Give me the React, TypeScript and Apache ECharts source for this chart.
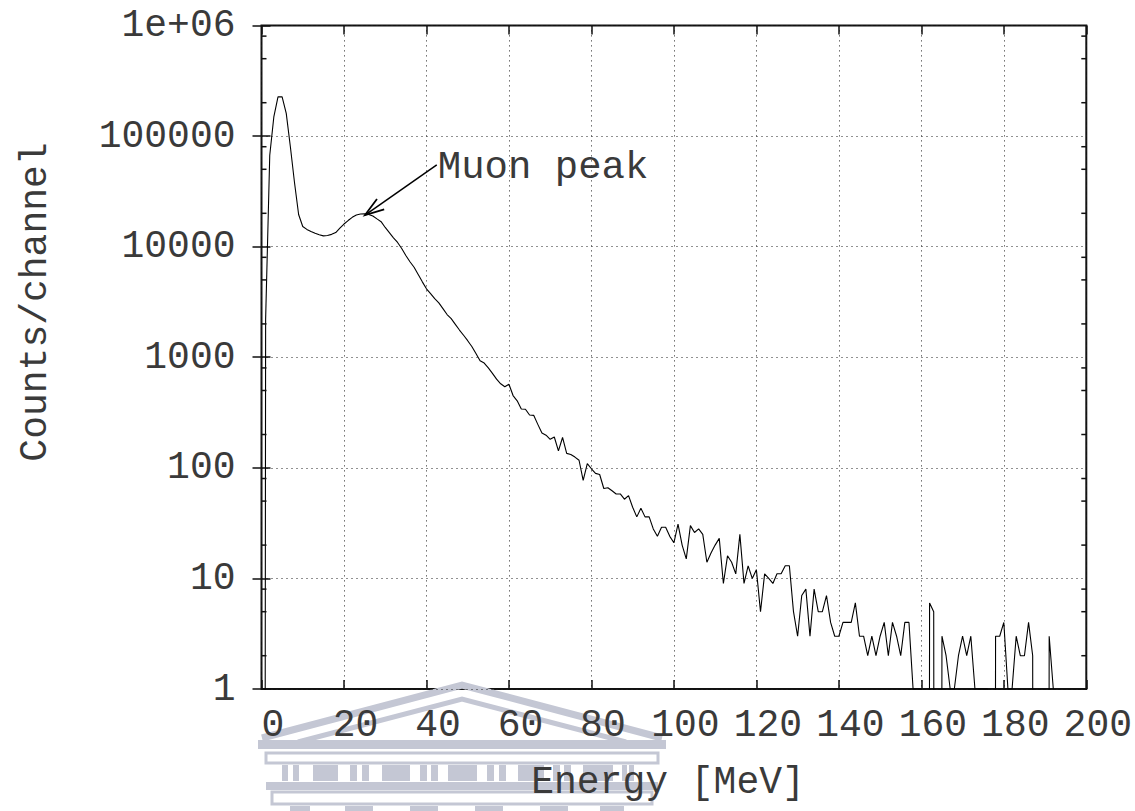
import React, { useEffect, useRef } from 'react';
import * as echarts from 'echarts';

// Counts per 1-MeV channel, channel index = energy in MeV (0 … 192)
const counts: number[] = [
  0, 2200, 67000, 150000, 226000, 226000, 160000, 80000, 38000, 19500,
  15200, 14300, 13700, 13200, 12800, 12500, 12600, 12900, 13400, 14700,
  16000, 17200, 18400, 19300, 19700, 19800, 19500, 18900, 17800, 16800,
  14900, 13400, 12000, 10900, 9600, 8300, 7300, 6500, 5600, 4800,
  4150, 3750, 3380, 3100, 2750, 2430, 2230, 1980, 1760, 1580,
  1410, 1250, 1080, 930, 885, 800, 715, 633, 575, 540,
  570, 450, 403, 340, 338, 300, 298, 247, 206, 197,
  181, 190, 142, 188, 135, 132, 125, 117, 77, 109,
  98, 89, 87, 65, 66, 62, 58, 58, 52, 56,
  44, 36, 43, 36, 36, 28, 24, 29, 29, 24,
  21, 31, 20, 15, 30, 26, 28, 25, 14, 17,
  20, 23, 9, 16, 14, 11, 25, 9, 13, 10,
  12, 5, 11, 10, 9, 11, 11, 13, 13, 5,
  3, 7, 8, 3, 8, 5, 5, 7, 4, 3,
  3, 4, 4, 4, 6, 3, 3, 2, 3, 2,
  3, 4, 2, 4, 3, 2, 4, 4, 1, 1,
  1, 0, 6, 5, 0, 3, 2, 1, 1, 2,
  3, 2, 3, 1, 1, 1, 1, 0, 3, 3,
  4, 1, 1, 3, 2, 2, 4, 2, 0, 0,
  0, 3, 1,
];
const channelWidthMeV = 1;
const energies: number[] = counts.map((_, i) => i * channelWidthMeV);

const xTicks: number[] = [0, 20, 40, 60, 80, 100, 120, 140, 160, 180, 200];
const yTickLabels: Record<string, string> = {
  '1': '1', '10': '10', '100': '100', '1000': '1000',
  '10000': '10000', '100000': '100000', '1000000': '1e+06',
};
const yMinorTicks: number[] = [
  2, 5, 8, 20, 50, 80, 200, 500, 800, 2000, 5000, 8000,
  20000, 50000, 80000, 200000, 500000, 800000,
];
const xTitle = 'Energy [MeV]';
const yTitle = 'Counts/channel';
const annotationText = 'Muon peak';
// arrow: [startEnergy, startCounts, tipEnergy, tipCounts]
const annotationArrow: number[] = [42.5, 54700, 25.1, 19300];

const FONT = '"Liberation Mono", "Courier New", monospace';
const TXT = '#3a3a3a';
const WM = '#c4c7d4';

export default function App() {
  const ref = useRef<HTMLDivElement>(null);
  useEffect(() => {
    if (!ref.current) return;
    const chart = echarts.init(ref.current, undefined, { renderer: 'svg' });
    const lineData = energies.map((e, i) => [e, counts[i] === 0 ? 1e-30 : counts[i]]);

    const dotted = { show: true, lineStyle: { color: '#222', width: 1, type: [1, 4] as any } };

    const watermark: any[] = [
      { type: 'polyline', shape: { points: [[262, 738], [462, 685], [662, 738]] }, style: { stroke: WM, lineWidth: 7, fill: 'none' }, z: 0 },
      { type: 'polyline', shape: { points: [[298, 742], [462, 699], [626, 742]] }, style: { stroke: WM, lineWidth: 5, fill: 'none' }, z: 0 },
      { type: 'rect', shape: { x: 258, y: 740, width: 408, height: 9 }, style: { fill: WM }, z: 0 },
      { type: 'rect', shape: { x: 266, y: 753, width: 392, height: 10 }, style: { fill: 'none', stroke: WM, lineWidth: 3 }, z: 0 },
      ...[[282, 6], [293, 6], [313, 25], [350, 7], [362, 7], [382, 28], [420, 7], [431, 7], [448, 29], [487, 7], [499, 7], [518, 26], [553, 7], [564, 7], [583, 30], [622, 5], [629, 5]].map(([x, w]) => ({
        type: 'rect', shape: { x, y: 765, width: w, height: 16 }, style: { fill: WM }, z: 0,
      })),
      { type: 'rect', shape: { x: 266, y: 782, width: 392, height: 8 }, style: { fill: WM }, z: 0 },
      { type: 'rect', shape: { x: 272, y: 792, width: 380, height: 12 }, style: { fill: 'none', stroke: WM, lineWidth: 3 }, z: 0 },
      ...[[290, 20], [345, 28], [410, 28], [475, 28], [540, 28], [600, 24]].map(([x, w]) => ({
        type: 'rect', shape: { x, y: 806, width: w, height: 5 }, style: { fill: WM }, z: 0,
      })),
    ];

    const option: any = {
      animation: false,
      backgroundColor: '#ffffff',
      textStyle: { fontFamily: FONT },
      grid: {
        left: 261.5, top: 25.4, width: 825, height: 663.6,
        show: true, borderColor: '#111', borderWidth: 2, backgroundColor: 'transparent',
      },
      xAxis: [
        {
          type: 'value', min: 0, max: 200, interval: 20, position: 'bottom',
          axisLine: { show: false },
          axisTick: { show: true, inside: true, length: 9, lineStyle: { color: '#111', width: 1.5 } },
          axisLabel: {
            show: true, fontFamily: FONT, fontSize: 38, color: TXT, margin: 17,
            padding: [0, 0, 0, 23],
            formatter: (v: number) => (xTicks.includes(v) ? String(v) : ''),
          },
          splitLine: dotted,
        },
        {
          type: 'value', min: 0, max: 200, interval: 20, position: 'top',
          axisLine: { show: false },
          axisTick: { show: true, inside: true, length: 9, lineStyle: { color: '#111', width: 1.5 } },
          axisLabel: { show: false },
          splitLine: { show: false },
        },
      ],
      yAxis: [
        {
          type: 'log', logBase: 10, min: 1, max: 1e6, position: 'left',
          axisLine: { show: false },
          axisTick: { show: true, inside: true, length: 9, lineStyle: { color: '#111', width: 1.5 } },
          axisLabel: {
            show: true, fontFamily: FONT, fontSize: 38, color: TXT, margin: 26,
            formatter: (v: number) => yTickLabels[String(Math.round(v))] ?? '',
          },
          splitLine: dotted,
        },
        {
          type: 'log', logBase: 10, min: 1, max: 1e6, position: 'right',
          axisLine: { show: false },
          axisTick: { show: true, inside: true, length: 9, lineStyle: { color: '#111', width: 1.5 } },
          axisLabel: { show: false },
          splitLine: { show: false },
        },
      ],
      graphic: [
        ...watermark,
        {
          type: 'text', x: 35, y: 302, rotation: Math.PI / 2, z: 10,
          style: { text: yTitle, fontFamily: FONT, fontSize: 38, fill: TXT, align: 'center', verticalAlign: 'middle' },
        },
        {
          type: 'text', x: 668, y: 782, z: 10,
          style: { text: xTitle, fontFamily: FONT, fontSize: 38, fill: TXT, align: 'center', verticalAlign: 'middle' },
        },
      ],
      series: [
        {
          type: 'line', xAxisIndex: 0, yAxisIndex: 0, data: lineData,
          showSymbol: false, symbol: 'none', clip: true, z: 5,
          lineStyle: { color: '#000', width: 1.1 },
        },
        {
          type: 'custom', xAxisIndex: 0, yAxisIndex: 0, silent: true, clip: false, z: 6,
          data: yMinorTicks.map((v) => [0, v]),
          renderItem: (_p: any, api: any) => {
            const v = api.value(1);
            const l = api.coord([0, v]);
            const r = api.coord([200, v]);
            return {
              type: 'group',
              children: [
                { type: 'line', shape: { x1: l[0], y1: l[1], x2: l[0] + 5, y2: l[1] }, style: { stroke: '#111', lineWidth: 1.5 } },
                { type: 'line', shape: { x1: r[0] - 5, y1: r[1], x2: r[0], y2: r[1] }, style: { stroke: '#111', lineWidth: 1.5 } },
              ],
            };
          },
        },
        {
          type: 'custom', xAxisIndex: 0, yAxisIndex: 0, silent: true, clip: false, z: 7,
          encode: { x: [0, 2], y: [1, 3] },
          data: [annotationArrow],
          renderItem: (_p: any, api: any) => {
            const s = api.coord([api.value(0), api.value(1)]);
            const e = api.coord([api.value(2), api.value(3)]);
            const ang = Math.atan2(s[1] - e[1], s[0] - e[0]);
            const L = 20, spread = 0.32;
            const b1 = [e[0] + L * Math.cos(ang + spread), e[1] + L * Math.sin(ang + spread)];
            const b2 = [e[0] + L * Math.cos(ang - spread), e[1] + L * Math.sin(ang - spread)];
            return {
              type: 'group',
              children: [
                { type: 'line', shape: { x1: s[0], y1: s[1], x2: e[0], y2: e[1] }, style: { stroke: '#000', lineWidth: 1.5 } },
                { type: 'polyline', shape: { points: [b1, e, b2] }, style: { stroke: '#000', lineWidth: 1.8, fill: 'none' } },
                {
                  type: 'text', x: s[0] + 1, y: s[1] + 3,
                  style: { text: annotationText, fontFamily: FONT, fontSize: 39, fill: TXT, align: 'left', verticalAlign: 'middle' },
                },
              ],
            };
          },
        },
      ],
    };
    chart.setOption(option);
    return () => chart.dispose();
  }, []);

  return (
    <div
      ref={ref}
      style={{ position: 'fixed', left: 0, top: 0, width: 1135, height: 811, background: '#fff' }}
    />
  );
}
